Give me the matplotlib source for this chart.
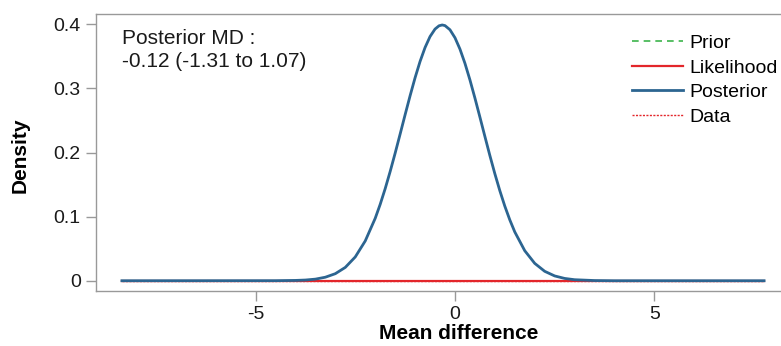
import matplotlib
matplotlib.use("Agg")
import matplotlib.pyplot as plt

plt.rcParams['font.family'] = ['Liberation Sans', 'DejaVu Sans']

# densidad posterior
post_x = [-8.35, -4.5, -4.0, -3.75, -3.5, -3.25, -3.0, -2.75, -2.5, -2.25, -2.0,
          -1.875, -1.75, -1.625, -1.5, -1.375, -1.25, -1.125, -1.0, -0.875, -0.75,
          -0.625, -0.5, -0.4, -0.32, -0.25, -0.125, 0.0, 0.125, 0.25, 0.375, 0.5,
          0.625, 0.75, 0.875, 1.0, 1.125, 1.25, 1.375, 1.5, 1.75, 2.0, 2.25, 2.5,
          2.75, 3.0, 3.5, 4.0, 7.75]
post_y = [0.0, 0.0001, 0.0005, 0.0011, 0.0025, 0.0055, 0.0110, 0.0208, 0.0371,
          0.0620, 0.0973, 0.1191, 0.1435, 0.1703, 0.1989, 0.2287, 0.2589, 0.2885,
          0.3166, 0.3420, 0.3637, 0.3808, 0.3925, 0.3976, 0.3989, 0.3979, 0.3914,
          0.3790, 0.3613, 0.3391, 0.3133, 0.2850, 0.2553, 0.2251, 0.1953, 0.1669,
          0.1404, 0.1163, 0.0949, 0.0761, 0.0468, 0.0271, 0.0147, 0.0075, 0.0036,
          0.0016, 0.0003, 0.0, 0.0]

# verosimilitud, prior y datos: planos en cero
flat_x = [-8.35, 7.75]
like_y = [0.0, 0.0]
prior_y = [0.0, 0.0]
data_y = [0.0, 0.0]

x_ticks = [-5, 0, 5]
y_ticks = [0, 0.1, 0.2, 0.3, 0.4]
y_labels = ['0', '0.1', '0.2', '0.3', '0.4']

fig = plt.figure(figsize=(7.81, 3.46), dpi=100)
ax = fig.add_axes([96 / 781, 1 - 291 / 346, (790 - 96) / 781, (291 - 14) / 346])

l_prior, = ax.plot(flat_x, prior_y, color='#3cb44b', lw=1.2, ls=(0, (4, 3)))
l_like, = ax.plot(flat_x, like_y, color='#e3262b', lw=1.6)
l_data, = ax.plot(flat_x, data_y, color='#e3262b', lw=1.0, ls=(0, (1.5, 1)))
l_post, = ax.plot(post_x, post_y, color='#2c6591', lw=2.0)

ax.set_xlim(-9.0, 8.4)
ax.set_ylim(-0.016, 0.416)
ax.set_xticks(x_ticks)
ax.set_xticklabels([str(t) for t in x_ticks])
ax.set_yticks(y_ticks)
ax.set_yticklabels(y_labels)

for s in ['left', 'bottom', 'top']:
    ax.spines[s].set_color('#999999')
    ax.spines[s].set_linewidth(1.0)
ax.spines['right'].set_visible(False)
ax.tick_params(axis='both', direction='out', length=7, width=1.0, color='#999999',
               labelsize=14, labelcolor='#1a1a1a', pad=4)

ax.set_xlabel('Mean difference', fontsize=15, fontweight='bold')
ax.xaxis.set_label_coords(0.523, -0.12)
ax.set_ylabel('Density', fontsize=15, fontweight='bold')
ax.yaxis.set_label_coords(-0.095, 0.49)

fig.text(122 / 781, 1 - 50 / 346, 'Posterior MD :\n-0.12 (-1.31 to 1.07)',
         fontsize=15, va='center', ha='left', linespacing=1.3, color='#1a1a1a')

leg = ax.legend([l_prior, l_like, l_post, l_data],
                ['Prior', 'Likelihood', 'Posterior', 'Data'],
                loc='upper left', bbox_to_anchor=(0.743, 1.0), frameon=False,
                fontsize=14, handlelength=2.6, handletextpad=0.35,
                labelspacing=0.36, borderaxespad=0.65)

fig.savefig('out.png', dpi=100)
